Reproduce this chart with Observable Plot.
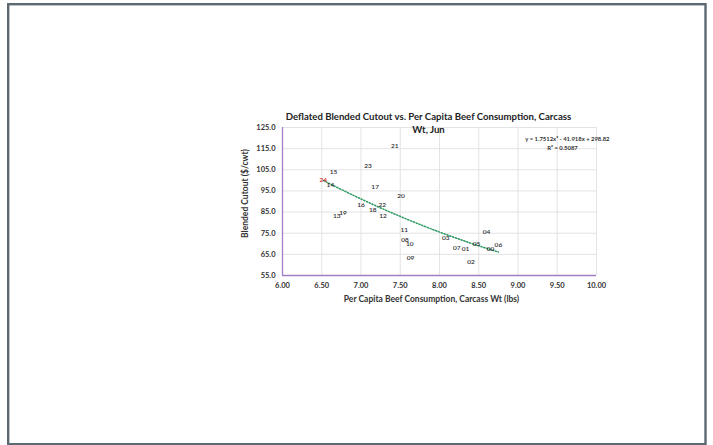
<!DOCTYPE html>
<html>
<head>
<meta charset="utf-8">
<script src="https://cdn.jsdelivr.net/npm/d3@7"></script>
<script src="https://cdn.jsdelivr.net/npm/@observablehq/plot@0.6"></script>
<style>
  html, body { margin: 0; padding: 0; background: #fff; }
  #chart { position: relative; width: 713px; height: 445px; }
  #chart svg { display: block; }
</style>
</head>
<body>
<div id="chart"></div>
<script>
// Year labels (data point labels)
const labels = ["00","01","02","03","04","05","06","07","08","09","10","11","12","13","14","15","16","17","18","19","20","21","22","23","24"];
// Per capita beef consumption, carcass wt (lbs)
const consumption = [8.65,8.33,8.40,8.08,8.60,8.47,8.75,8.22,7.56,7.63,7.62,7.55,7.28,6.69,6.61,6.65,7.00,7.18,7.15,6.77,7.51,7.43,7.27,7.09,6.52];
// Deflated blended cutout ($/cwt)
const cutout = [67.6,67.6,61.3,73.0,75.5,70.0,69.5,67.9,71.7,63.4,70.0,76.6,83.1,83.3,97.9,103.8,88.5,96.8,85.8,84.7,92.7,116.3,88.6,106.8,100.2];
// Polynomial trendline coefficients (a, b, c) as shown on the chart
const trendCoef = [1.7512, -41.918, 298.82];
const trendText = ["y = 1.7512x\u00B2 - 41.918x + 298.82", "R\u00B2 = 0.5087"];
const xTicks = [6.0,6.5,7.0,7.5,8.0,8.5,9.0,9.5,10.0];
const yTicks = [55,65,75,85,95,105,115,125];
const title = "Deflated Blended Cutout vs. Per Capita Beef Consumption, Carcass\nWt, Jun";
const xTitle = "Per Capita Beef Consumption, Carcass Wt (lbs)";
const yTitle = "Blended Cutout ($/cwt)";

const points = labels.map((l, i) => ({label: l, x: consumption[i], y: cutout[i]}));
const xmin = d3.min(consumption), xmax = d3.max(consumption);
const trend = d3.range(0, 61).map(i => {
  const x = xmin + (xmax - xmin) * i / 60;
  return {x, y: trendCoef[0] * x * x + trendCoef[1] * x + trendCoef[2]};
});

const font = "Lato, 'Open Sans', sans-serif";
const axisColor = "#a27fc4";

const chart = Plot.plot({
  width: 713,
  height: 445,
  marginLeft: 282,
  marginRight: 117,
  marginTop: 127,
  marginBottom: 170,
  style: {fontFamily: font, background: "#fff", color: "#333"},
  x: {domain: [6, 10], ticks: xTicks, tickFormat: d3.format(".2f"), label: null},
  y: {domain: [55, 125], ticks: yTicks, tickFormat: d3.format(".1f"), label: null},
  marks: [
    Plot.gridX(xTicks, {stroke: "#e3e3e3", strokeOpacity: 1, strokeWidth: 1}),
    Plot.gridY(yTicks, {stroke: "#e3e3e3", strokeOpacity: 1, strokeWidth: 1}),
    Plot.axisX(xTicks, {tickSize: 0, tickPadding: 7, tickFormat: d3.format(".2f"), fontSize: 7.5, fontWeight: "bold", fill: "#333", label: null}),
    Plot.axisY(yTicks, {tickSize: 0, tickPadding: 7, tickFormat: d3.format(".1f"), fontSize: 7.5, fontWeight: "bold", fill: "#333", label: null}),
    Plot.ruleX([6], {stroke: axisColor, strokeWidth: 1.3}),
    Plot.ruleY([55], {stroke: axisColor, strokeWidth: 1.3}),
    Plot.line(trend, {x: "x", y: "y", stroke: "#2f9a63", strokeWidth: 1.5, strokeDasharray: "1.3 1.7"}),
    Plot.text(points, {x: "x", y: "y", text: "label", fontSize: 6.5, fontWeight: 600, fill: d => d.label === "24" ? "#d0191c" : "#2a2a2a", fontFamily: font}),
    Plot.text([title], {frameAnchor: "top", dx: -11, dy: 5, text: d => d, fontSize: 9.6, fontWeight: "bold", fill: "#222", lineHeight: 1.35, textAnchor: "middle", lineAnchor: "bottom"}),
    Plot.text([trendText[0]], {frameAnchor: "top-right", dx: 13, dy: 9, text: d => d, fontSize: 5.9, fontWeight: "bold", fill: "#333", textAnchor: "end"}),
    Plot.text([trendText[1]], {frameAnchor: "top-right", dx: -34, dy: 18, text: d => d, fontSize: 5.9, fontWeight: "bold", fill: "#333", textAnchor: "middle"}),
    Plot.text([xTitle], {frameAnchor: "bottom", dx: -8, dy: 26, text: d => d, fontSize: 8.5, fontWeight: "bold", fill: "#333"}),
    Plot.text([yTitle], {frameAnchor: "left", dx: -37, dy: -8, rotate: -90, textAnchor: "middle", text: d => d, fontSize: 8.5, fontWeight: "bold", fill: "#333"})
  ]
});

// outer frame border of the page
d3.select(chart).append("rect")
  .attr("x", 8.2).attr("y", 4.2).attr("width", 697.3).attr("height", 440)
  .attr("fill", "none").attr("stroke", "#5d6972").attr("stroke-width", 2.4);

document.getElementById("chart").appendChild(chart);
</script>
</body>
</html>
